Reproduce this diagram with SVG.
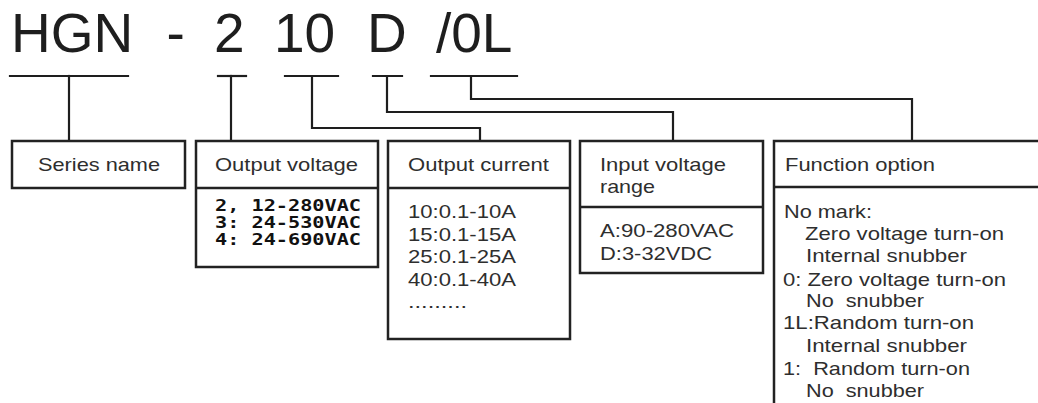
<svg xmlns="http://www.w3.org/2000/svg" width="1038" height="403" viewBox="0 0 1038 403">
<style>
  .box { fill: #ffffff; stroke: #222222; stroke-width: 2.5; }
  .div { stroke: #222222; stroke-width: 2.5; fill: none; }
  .ln { stroke: #1e1e1e; stroke-width: 2.2; fill: none; stroke-linecap: square; }
  .title { font-family: "Liberation Sans", Arial, sans-serif; font-size: 55px; fill: #1e1e1e; }
  .t { font-family: "Liberation Sans", Arial, sans-serif; font-size: 18.5px; fill: #2e2e2e; }
  .b { font-family: "DejaVu Sans Mono", "Liberation Mono", monospace; font-weight: bold; font-size: 16px; fill: #111111; }
</style>
<rect x="0" y="0" width="1038" height="403" fill="#ffffff"/>

<g id="title">
  <text class="title" y="52"><tspan x="11">HGN</tspan><tspan x="166.5">-</tspan><tspan x="214">2</tspan><tspan x="274">10</tspan><tspan x="367">D</tspan><tspan x="436">/0L</tspan></text>
</g>

<g id="connectors">
  <line class="ln" x1="10" y1="76" x2="128" y2="76"/>
  <line class="ln" x1="69" y1="76" x2="69" y2="140"/>
  <line class="ln" x1="218" y1="76" x2="246" y2="76"/>
  <line class="ln" x1="231" y1="76" x2="231" y2="140"/>
  <line class="ln" x1="285" y1="76" x2="338" y2="76"/>
  <polyline class="ln" points="312,76 312,128 480,128 480,140"/>
  <line class="ln" x1="373" y1="76" x2="402" y2="76"/>
  <polyline class="ln" points="387,76 387,112 673,112 673,140"/>
  <line class="ln" x1="431" y1="76" x2="517" y2="76"/>
  <polyline class="ln" points="471,76 471,99 912,99 912,140"/>
</g>

<g id="series-name">
  <rect class="box" x="12" y="141" width="173" height="47"/>
  <text class="t" x="38" y="171" textLength="122" lengthAdjust="spacingAndGlyphs">Series name</text>
</g>

<g id="output-voltage">
  <rect class="box" x="196" y="141" width="182" height="126"/>
  <line class="div" x1="196" y1="188" x2="378" y2="188"/>
  <text class="t" x="215" y="171" textLength="143" lengthAdjust="spacingAndGlyphs">Output voltage</text>
  <text class="b" x="215" y="211" textLength="146" lengthAdjust="spacingAndGlyphs">2, 12-280VAC</text>
  <text class="b" x="215" y="228" textLength="146" lengthAdjust="spacingAndGlyphs">3: 24-530VAC</text>
  <text class="b" x="215" y="245" textLength="146" lengthAdjust="spacingAndGlyphs">4: 24-690VAC</text>
</g>

<g id="output-current">
  <rect class="box" x="388" y="141" width="182" height="198"/>
  <line class="div" x1="388" y1="188" x2="570" y2="188"/>
  <text class="t" x="408" y="171" textLength="141" lengthAdjust="spacingAndGlyphs">Output current</text>
  <text class="t" x="408" y="218" textLength="108" lengthAdjust="spacingAndGlyphs">10:0.1-10A</text>
  <text class="t" x="408" y="241" textLength="108" lengthAdjust="spacingAndGlyphs">15:0.1-15A</text>
  <text class="t" x="408" y="263" textLength="108" lengthAdjust="spacingAndGlyphs">25:0.1-25A</text>
  <text class="t" x="408" y="286" textLength="108" lengthAdjust="spacingAndGlyphs">40:0.1-40A</text>
  <text class="t" x="408" y="308" font-size="13" fill="#555555" textLength="59" lengthAdjust="spacingAndGlyphs">.........</text>
</g>

<g id="input-voltage">
  <rect class="box" x="580" y="141" width="183" height="132"/>
  <line class="div" x1="580" y1="207" x2="763" y2="207"/>
  <text class="t" x="600" y="171" textLength="126" lengthAdjust="spacingAndGlyphs">Input voltage</text>
  <text class="t" x="600" y="193" textLength="55" lengthAdjust="spacingAndGlyphs">range</text>
  <text class="t" x="600" y="237" textLength="134" lengthAdjust="spacingAndGlyphs">A:90-280VAC</text>
  <text class="t" x="600" y="260" textLength="112" lengthAdjust="spacingAndGlyphs">D:3-32VDC</text>
</g>

<g id="function-option">
  <rect class="box" x="774" y="141" width="280" height="280"/>
  <line class="div" x1="774" y1="187" x2="1040" y2="187"/>
  <text class="t" x="785" y="171" textLength="150" lengthAdjust="spacingAndGlyphs">Function option</text>
  <text class="t" x="784" y="218" textLength="88" lengthAdjust="spacingAndGlyphs">No mark:</text>
  <text class="t" x="805" y="240" textLength="199" lengthAdjust="spacingAndGlyphs">Zero voltage turn-on</text>
  <text class="t" x="806" y="262" textLength="161" lengthAdjust="spacingAndGlyphs">Internal snubber</text>
  <text class="t" x="783" y="286" textLength="223" lengthAdjust="spacingAndGlyphs">0: Zero voltage turn-on</text>
  <text class="t" x="806" y="307" textLength="118" lengthAdjust="spacingAndGlyphs" xml:space="preserve">No  snubber</text>
  <text class="t" x="783" y="329" textLength="191" lengthAdjust="spacingAndGlyphs">1L:Random turn-on</text>
  <text class="t" x="806" y="352" textLength="161" lengthAdjust="spacingAndGlyphs">Internal snubber</text>
  <text class="t" x="783" y="375" textLength="187" lengthAdjust="spacingAndGlyphs" xml:space="preserve">1:  Random turn-on</text>
  <text class="t" x="806" y="397" textLength="118" lengthAdjust="spacingAndGlyphs" xml:space="preserve">No  snubber</text>
</g>
</svg>
